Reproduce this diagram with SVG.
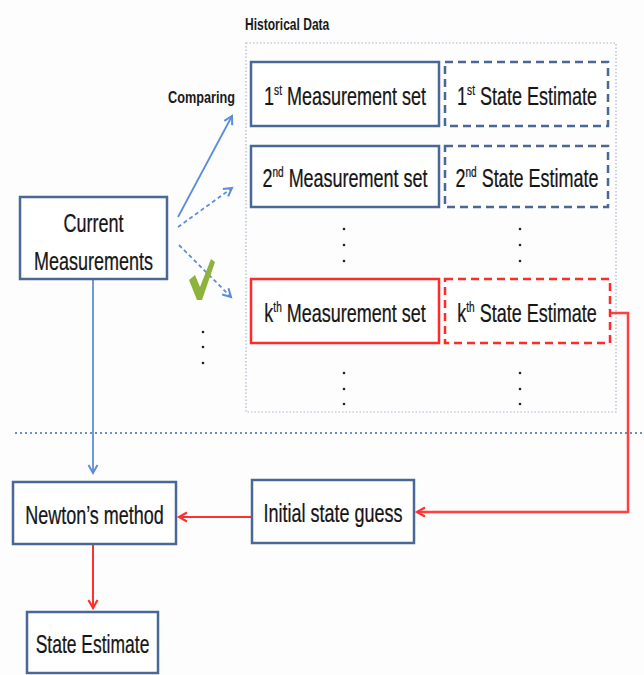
<svg xmlns="http://www.w3.org/2000/svg" width="644" height="675" viewBox="0 0 644 675">
<defs>
<style>
.box{fill:#ffffff;stroke:#4a6896;stroke-width:2.5}
.dbox{fill:#ffffff;stroke:#4a6896;stroke-width:2.5;stroke-dasharray:8 5}
.rbox{fill:#ffffff;stroke:#ff2a2a;stroke-width:2.5}
.rdbox{fill:#ffffff;stroke:#ff2a2a;stroke-width:2.5;stroke-dasharray:8 5}
.t{font-family:"Liberation Sans",Arial,sans-serif;font-size:25px;fill:#161616;stroke:#161616;stroke-width:0.25;text-anchor:middle}
.sup{font-size:14px}
.lbl{font-family:"Liberation Sans",Arial,sans-serif;font-size:16.5px;font-weight:bold;fill:#1a1a1a}
.blue{fill:none;stroke:#5b8ed6;stroke-width:1.8}
.red{fill:none;stroke:#ff3030;stroke-width:2}
.dot{fill:#222222}
</style>
<marker id="ab" markerUnits="userSpaceOnUse" markerWidth="14" markerHeight="12" refX="9" refY="5" orient="auto" overflow="visible">
<path d="M1,0.5 L9,5 L1,9.5" fill="none" stroke="#5b8ed6" stroke-width="2"/>
</marker>
<marker id="ar" markerUnits="userSpaceOnUse" markerWidth="14" markerHeight="12" refX="9" refY="5" orient="auto" overflow="visible">
<path d="M1,0.5 L9,5 L1,9.5" fill="none" stroke="#ff3030" stroke-width="2.2"/>
</marker>
</defs>
<rect width="644" height="675" fill="#fdfdfd"/>

<g id="historical-data">
<rect x="246" y="43" width="370" height="369" fill="none" stroke="#aab8cc" stroke-width="1.2" stroke-dasharray="1.5 2"/>
<text class="lbl" transform="translate(245,30) scale(0.73,1)">Historical Data</text>
</g>

<g id="comparing-label">
<text class="lbl" transform="translate(168,103) scale(0.77,1)">Comparing</text>
</g>

<g id="separator">
<line x1="15" y1="433" x2="644" y2="433" stroke="#6a8fc8" stroke-width="2" stroke-dasharray="2 3"/>
</g>

<g id="connectors">
<line class="blue" x1="178" y1="217" x2="232" y2="116" marker-end="url(#ab)"/>
<line class="blue" x1="178" y1="227" x2="232" y2="188" stroke-dasharray="4 3" marker-end="url(#ab)"/>
<line class="blue" x1="179" y1="245" x2="231" y2="297" stroke-dasharray="4 3" marker-end="url(#ab)"/>
<line class="blue" x1="93" y1="280" x2="93" y2="473" marker-end="url(#ab)"/>
<line class="red" x1="93" y1="545" x2="93" y2="608" marker-end="url(#ar)"/>
<line class="red" x1="251" y1="517" x2="179" y2="517" marker-end="url(#ar)"/>
<path d="M611,313 L628,313 L628,512 L417,512" fill="none" stroke="#ff4040" stroke-width="2.5" marker-end="url(#ar)"/>
</g>

<g id="m1">
<rect class="box" x="251" y="62" width="188" height="64"/>
<text class="t" transform="translate(345,105) scale(0.72,1)">1<tspan class="sup" dy="-10">st</tspan><tspan dy="10"> Measurement set</tspan></text>
</g>
<g id="s1">
<rect class="dbox" x="445" y="62" width="163" height="64"/>
<text class="t" transform="translate(527,105) scale(0.72,1)">1<tspan class="sup" dy="-10">st</tspan><tspan dy="10"> State Estimate</tspan></text>
</g>

<g id="m2">
<rect class="box" x="251" y="146" width="188" height="61"/>
<text class="t" transform="translate(345,187) scale(0.72,1)">2<tspan class="sup" dy="-10">nd</tspan><tspan dy="10"> Measurement set</tspan></text>
</g>
<g id="s2">
<rect class="dbox" x="445" y="146" width="163" height="61"/>
<text class="t" transform="translate(527,187) scale(0.72,1)">2<tspan class="sup" dy="-10">nd</tspan><tspan dy="10"> State Estimate</tspan></text>
</g>

<g id="dots-upper">
<circle class="dot" cx="344" cy="229" r="1.3"/>
<circle class="dot" cx="344" cy="245" r="1.3"/>
<circle class="dot" cx="344" cy="261" r="1.3"/>
<circle class="dot" cx="520" cy="229" r="1.3"/>
<circle class="dot" cx="520" cy="245" r="1.3"/>
<circle class="dot" cx="520" cy="261" r="1.3"/>
</g>

<g id="mk">
<rect class="rbox" x="251" y="279" width="188" height="64"/>
<text class="t" transform="translate(345,322) scale(0.72,1)">k<tspan class="sup" dy="-10">th</tspan><tspan dy="10"> Measurement set</tspan></text>
</g>
<g id="sk">
<rect class="rdbox" x="445" y="279" width="165" height="64"/>
<text class="t" transform="translate(527,322) scale(0.72,1)">k<tspan class="sup" dy="-10">th</tspan><tspan dy="10"> State Estimate</tspan></text>
</g>

<g id="dots-lower">
<circle class="dot" cx="344" cy="373" r="1.3"/>
<circle class="dot" cx="344" cy="389" r="1.3"/>
<circle class="dot" cx="344" cy="404" r="1.3"/>
<circle class="dot" cx="520" cy="373" r="1.3"/>
<circle class="dot" cx="520" cy="389" r="1.3"/>
<circle class="dot" cx="520" cy="404" r="1.3"/>
</g>

<g id="dots-left">
<circle class="dot" cx="203" cy="332" r="1.3"/>
<circle class="dot" cx="203" cy="347" r="1.3"/>
<circle class="dot" cx="203" cy="363" r="1.3"/>
</g>

<g id="check">
<path d="M189,280 L195,275 L200,287 L211,259 L215,262 L202,300 L197,300 Z" fill="#8cb43c"/>
</g>

<g id="current">
<rect class="box" x="20" y="197" width="147" height="82"/>
<text class="t" transform="translate(93.5,232) scale(0.72,1)">Current</text>
<text class="t" transform="translate(93.5,270) scale(0.72,1)">Measurements</text>
</g>

<g id="newton">
<rect class="box" x="13" y="482" width="163" height="62"/>
<text class="t" transform="translate(94.5,524) scale(0.72,1)">Newton’s method</text>
</g>

<g id="initial">
<rect class="box" x="252" y="480" width="162" height="63"/>
<text class="t" transform="translate(333,522) scale(0.72,1)">Initial state guess</text>
</g>

<g id="estimate">
<rect class="box" x="27" y="612" width="131" height="61"/>
<text class="t" transform="translate(92.5,653) scale(0.7,1)">State Estimate</text>
</g>
</svg>
